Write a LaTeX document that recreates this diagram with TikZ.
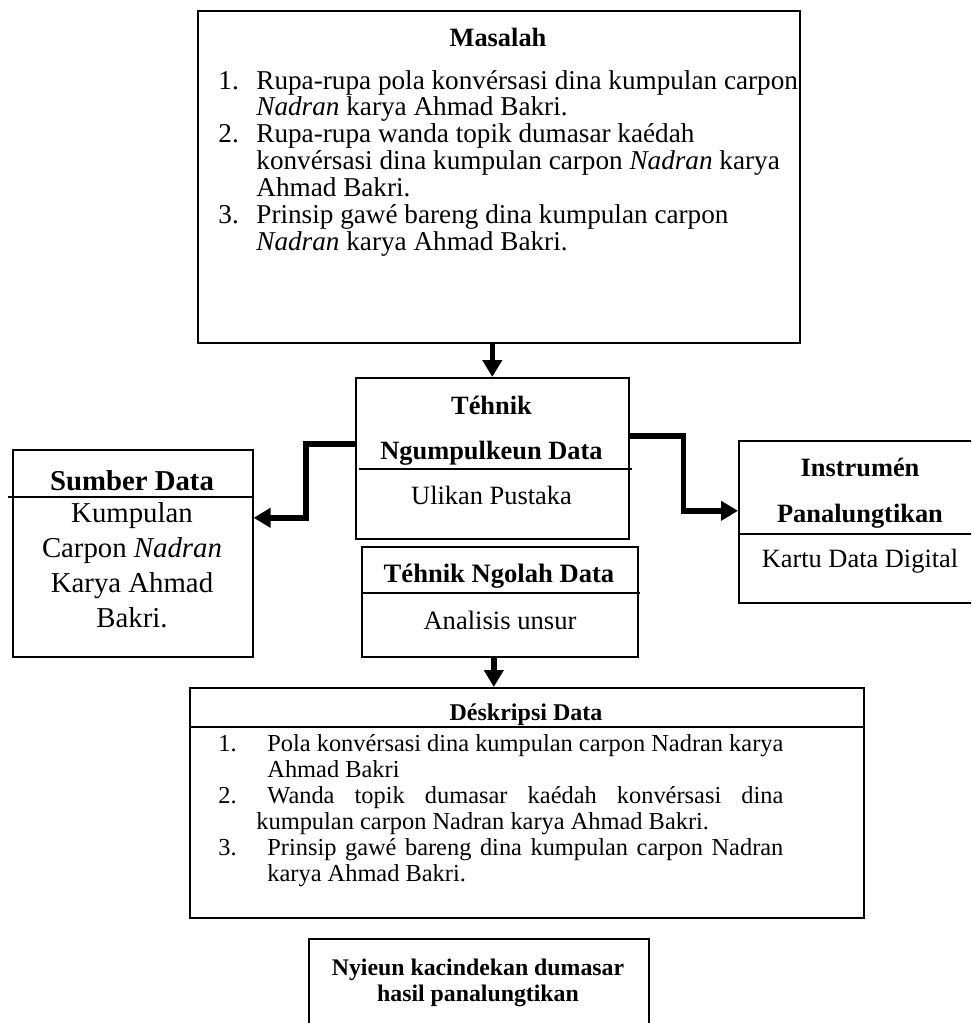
\documentclass[tikz,border=0pt]{standalone}
\usepackage{fontspec}
\setmainfont{Liberation Serif}
\usetikzlibrary{arrows.meta}

\begin{document}
\begin{tikzpicture}[x=0.5pt, y=-0.5pt]
	\tikzset{box/.style={draw, line width=0.8pt, inner sep=0pt, anchor=north west},
		rule/.style={line width=0.8pt},
		txt/.style={inner sep=0pt, anchor=base},
		flow/.style={line width=2.8pt, -{Triangle[length=8.5pt, width=9.5pt]}}}
	\useasboundingbox (0,0) rectangle (971,1023);
	\clip (0,0) rectangle (971,1023);
	% kotak
	\node[box, minimum width=301pt, minimum height=166pt] (masalah) at (197,10) {};
	\node[box, minimum width=136.5pt, minimum height=80.5pt] (kumpul) at (355,377) {};
	\node[box, minimum width=120pt, minimum height=103.5pt] (sumber) at (12,449) {};
	\node[box, minimum width=122pt, minimum height=81pt] (instrumen) at (738,440) {};
	\node[box, minimum width=138pt, minimum height=55pt] (ngolah) at (361,546) {};
	\node[box, minimum width=337pt, minimum height=115pt] (deskripsi) at (189,687) {};
	\node[box, minimum width=170pt, minimum height=60pt] (nyieun) at (308,938) {};
	\draw[rule] (359,469) -- (632,469);
	\draw[rule] (8,497) -- (252,497);
	\draw[rule] (738,534) -- (982,534);
	\draw[rule] (361,593) -- (640,593);
	\draw[rule] (189,727) -- (863,727);
	% Masalah
	\node[txt, font=\fontsize{13.2}{13.3}\selectfont\bfseries] (masalahjudul) at (498,46) {Masalah};
	\node[txt, anchor=base west, font=\fontsize{13.6}{13.33}\selectfont] (masalahlist) at (218,89) {%
		\begin{tabular}[t]{@{}p{19pt}@{}l@{}}
			1. & Rupa-rupa pola konvérsasi dina kumpulan carpon\\
			& \textit{Nadran} karya Ahmad Bakri.\\
			2. & Rupa-rupa wanda topik dumasar kaédah\\
			& konvérsasi dina kumpulan carpon \textit{Nadran} karya\\
			& Ahmad Bakri.\\
			3. & Prinsip gawé bareng dina kumpulan carpon\\
			& \textit{Nadran} karya Ahmad Bakri.
	\end{tabular}};
	% Tehnik ngumpulkeun data
	\node[txt, font=\fontsize{13.2}{13.3}\selectfont\bfseries] (kumpulA) at (491.5,414) {Téhnik};
	\node[txt, font=\fontsize{13.2}{13.3}\selectfont\bfseries] (kumpulB) at (491.5,459) {Ngumpulkeun Data};
	\node[txt, font=\fontsize{13.2}{13.3}\selectfont] (kumpulisi) at (491.5,504) {Ulikan Pustaka};
	% Sumber data
	\node[txt, font=\fontsize{14.4}{17.5}\selectfont\bfseries] (sumberjudul) at (132,490) {Sumber Data};
	\node[txt, font=\fontsize{14.4}{17.5}\selectfont] (sumberisi) at (132,522.6) {%
		\begin{tabular}[t]{@{}c@{}}
			Kumpulan\\
			Carpon \textit{Nadran}\\
			Karya Ahmad\\
			Bakri.
	\end{tabular}};
	% Instrumen
	\node[txt, font=\fontsize{13.2}{13.3}\selectfont\bfseries] (instrumenA) at (860,476) {Instrumén};
	\node[txt, font=\fontsize{13.2}{13.3}\selectfont\bfseries] (instrumenB) at (860,522) {Panalungtikan};
	\node[txt, font=\fontsize{13.2}{13.3}\selectfont] (instrumenisi) at (860,567) {Kartu Data Digital};
	% Tehnik ngolah data
	\node[txt, font=\fontsize{13.3}{13.3}\selectfont\bfseries] (ngolahjudul) at (499,582) {Téhnik Ngolah Data};
	\node[txt, font=\fontsize{13.3}{13.3}\selectfont] (ngolahisi) at (500,629) {Analisis unsur};
	% Deskripsi data
	\node[txt, font=\fontsize{12}{13}\selectfont\bfseries] (deskripsijudul) at (526,720) {Déskripsi Data};
	\node[txt, anchor=base west, font=\fontsize{12.2}{13}\selectfont] (deskripsilist) at (218,751) {%
		\begin{tabular}[t]{@{}p{24.5pt}@{}l@{}}
			1. & \makebox[258pt][s]{Pola konvérsasi dina kumpulan carpon Nadran karya}\\
			& Ahmad Bakri\\
			2. & \makebox[258pt][s]{Wanda topik dumasar kaédah konvérsasi dina}\\
			& \hspace*{-5.5pt}kumpulan carpon Nadran karya Ahmad Bakri.\\
			3. & \makebox[258pt][s]{Prinsip gawé bareng dina kumpulan carpon Nadran}\\
			& karya Ahmad Bakri.
	\end{tabular}};
	% Kacindekan
	\node[txt, font=\fontsize{11.9}{13}\selectfont\bfseries] (nyieunisi) at (478,975) {%
		\begin{tabular}[t]{@{}c@{}}
			Nyieun kacindekan dumasar\\
			hasil panalungtikan
	\end{tabular}};
	% panah
	\draw[flow] (kumpul.north |- masalah.south) -- (kumpul.north);
	\draw[flow] ([yshift=7.25pt]kumpul.west) -- ++(-49,0) |- ([yshift=17.75pt]sumber.east);
	\draw[flow] ([yshift=11.25pt]kumpul.east) -- ++(54,0) |- ([yshift=5.5pt]instrumen.west);
	\draw[flow] ([xshift=-3pt]ngolah.south) -- ([xshift=-3pt]ngolah.south |- deskripsi.north);
\end{tikzpicture}
\end{document}
